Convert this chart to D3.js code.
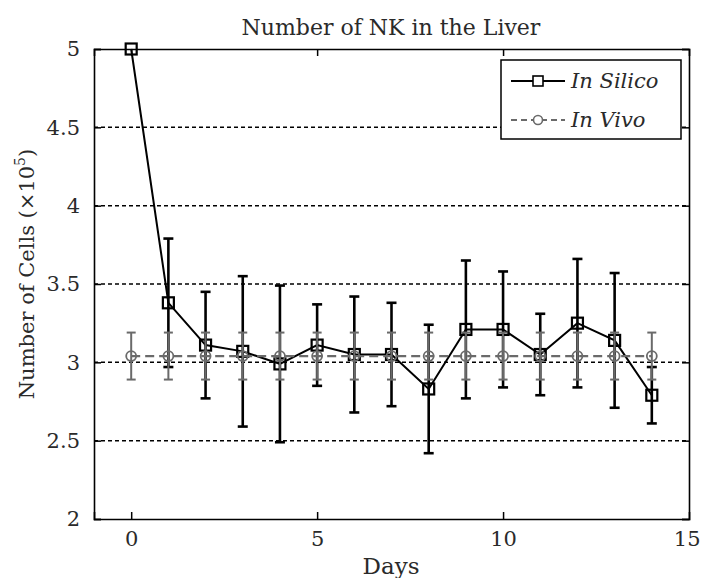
<!DOCTYPE html>
<html><head><meta charset="utf-8">
<script src="https://cdn.jsdelivr.net/npm/d3@7"></script>
<style>body{margin:0;background:#fff}svg{display:block}text{font-family:"DejaVu Serif",serif}</style>
</head><body><svg id="c" width="701" height="578"></svg>
<script>
const days = [0,1,2,3,4,5,6,7,8,9,10,11,12,13,14];
const silicoMean = [5.00,3.38,3.11,3.07,2.99,3.11,3.05,3.05,2.83,3.21,3.21,3.05,3.25,3.14,2.79];
const silicoErr  = [0.00,0.41,0.34,0.48,0.50,0.26,0.37,0.33,0.41,0.44,0.37,0.26,0.41,0.43,0.18];
const vivoMean = [3.04,3.04,3.04,3.04,3.04,3.04,3.04,3.04,3.04,3.04,3.04,3.04,3.04,3.04,3.04];
const vivoErr  = [0.15,0.15,0.15,0.15,0.15,0.15,0.15,0.15,0.15,0.15,0.15,0.15,0.15,0.15,0.15];
const xTicks = [0,5,10,15];
const yTicks = [2,2.5,3,3.5,4,4.5,5];
const gridTicks = [2.5,3,3.5,4,4.5];
const title = "Number of NK in the Liver";
const xLabel = "Days";
const seriesNames = ["In Silico","In Vivo"];

const svg = d3.select("#c");
const L=94,R=689,T=49,B=519;
const x = d3.scaleLinear().domain([-1,15]).range([L,R]);
const y = d3.scaleLinear().domain([2,5]).range([B,T]);
const GRAY = "#6a6a6a";
const TXT = "#2a2a2a";

// grid
svg.append("g").selectAll("line").data(gridTicks).join("line")
  .attr("x1",L).attr("x2",R).attr("y1",d=>y(d)).attr("y2",d=>y(d))
  .attr("stroke","#000").attr("stroke-width",1.5).attr("stroke-dasharray","4,3");

// axes with inward ticks
const xb = svg.append("g").attr("transform",`translate(0,${B})`)
  .call(d3.axisBottom(x).tickValues(xTicks).tickSize(-7).tickPadding(12).tickFormat(d3.format("d")));
const xt = svg.append("g").attr("transform",`translate(0,${T})`)
  .call(d3.axisTop(x).tickValues(xTicks).tickSize(-7).tickFormat(""));
const yl = svg.append("g").attr("transform",`translate(${L},0)`)
  .call(d3.axisLeft(y).tickValues(yTicks).tickSize(-7).tickPadding(14).tickFormat(d=>String(d)));
const yr = svg.append("g").attr("transform",`translate(${R},0)`)
  .call(d3.axisRight(y).tickValues(yTicks).tickSize(-7).tickFormat(""));
[xb,xt,yl,yr].forEach(g=>{
  g.select(".domain").attr("stroke","#000").attr("stroke-width",1.6);
  g.selectAll(".tick line").attr("stroke","#000").attr("stroke-width",1.5);
  g.selectAll(".tick text").attr("fill",TXT).style("font-size","21px").style("font-family","DejaVu Serif");
});
xb.selectAll(".tick").filter(d=>d===15).select("line").remove();
xt.selectAll(".tick").filter(d=>d===15).select("line").remove();
xb.selectAll(".tick").filter(d=>d===15).select("text").attr("text-anchor","end").attr("x",11);

const sil = days.map((d,i)=>({d,m:silicoMean[i],e:silicoErr[i]}));
const viv = days.map((d,i)=>({d,m:vivoMean[i],e:vivoErr[i]}));

function errBars(g,data,color,w,cap){
  const eg = g.append("g").attr("stroke",color).attr("stroke-width",w);
  data.filter(p=>p.e>0).forEach(p=>{
    eg.append("line").attr("x1",x(p.d)).attr("x2",x(p.d)).attr("y1",y(p.m-p.e)).attr("y2",y(p.m+p.e));
    [p.m-p.e,p.m+p.e].forEach(v=>eg.append("line").attr("x1",x(p.d)-cap).attr("x2",x(p.d)+cap).attr("y1",y(v)).attr("y2",y(v)));
  });
}
const line = d3.line().x(p=>x(p.d)).y(p=>y(p.m));

const gs = svg.append("g");
errBars(gs,sil,"#000",2.6,5);
gs.append("path").datum(sil).attr("d",line).attr("fill","none").attr("stroke","#000").attr("stroke-width",2);
gs.selectAll("rect").data(sil).join("rect")
  .attr("x",p=>x(p.d)-5.5).attr("y",p=>y(p.m)-5.5).attr("width",11).attr("height",11)
  .attr("fill","none").attr("stroke","#000").attr("stroke-width",2.2);

const gv = svg.append("g");
errBars(gv,viv,GRAY,2,4.5);
gv.append("path").datum(viv).attr("d",line).attr("fill","none").attr("stroke",GRAY).attr("stroke-width",2.2).attr("stroke-dasharray","9,5");
gv.selectAll("circle").data(viv).join("circle")
  .attr("cx",p=>x(p.d)).attr("cy",p=>y(p.m)).attr("r",5)
  .attr("fill","none").attr("stroke",GRAY).attr("stroke-width",1.8);

// legend
const lg = svg.append("g");
lg.append("rect").attr("x",501).attr("y",60).attr("width",180).attr("height",79)
  .attr("fill","#fff").attr("stroke","#000").attr("stroke-width",1.5);
lg.append("line").attr("x1",511).attr("x2",565).attr("y1",81).attr("y2",81).attr("stroke","#000").attr("stroke-width",2);
lg.append("rect").attr("x",533).attr("y",76).attr("width",10).attr("height",10).attr("fill","#fff").attr("stroke","#000").attr("stroke-width",1.6);
lg.append("line").attr("x1",511).attr("x2",565).attr("y1",120).attr("y2",120).attr("stroke",GRAY).attr("stroke-width",1.8).attr("stroke-dasharray","6,4");
lg.append("circle").attr("cx",538).attr("cy",120).attr("r",4.5).attr("fill","#fff").attr("stroke",GRAY).attr("stroke-width",1.6);
lg.selectAll("text.lt").data(seriesNames).join("text").attr("class","lt")
  .attr("x",571).attr("y",(d,i)=>88+i*39).attr("fill",TXT)
  .style("font-size","21px").style("font-style","italic").text(d=>d);

// title and labels
svg.append("text").attr("x",391).attr("y",35).attr("text-anchor","middle").attr("fill",TXT)
  .style("font-size","22px").text(title);
svg.append("text").attr("x",391).attr("y",574).attr("text-anchor","middle").attr("fill",TXT)
  .style("font-size","23px").text(xLabel);
const yt = svg.append("text").attr("transform","translate(34,274) rotate(-90)").attr("text-anchor","middle")
  .attr("fill",TXT).style("font-size","21px");
yt.append("tspan").text("Number of Cells (\u00d710");
yt.append("tspan").attr("dy",-9).style("font-size","14px").text("5");
yt.append("tspan").attr("dy",9).text(")");
</script></body></html>
